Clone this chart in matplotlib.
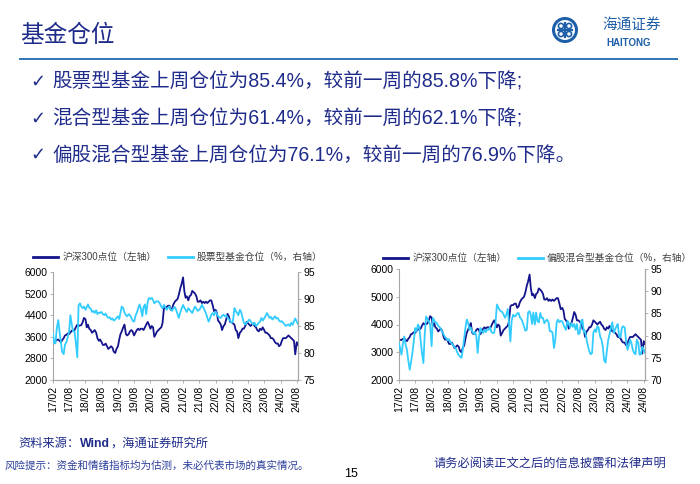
import numpy as np
import pandas as pd
import matplotlib
matplotlib.use('Agg')
import matplotlib.pyplot as plt
import matplotlib.dates as mdates
from matplotlib.patches import Circle
from matplotlib.lines import Line2D

plt.rcParams['font.family'] = ['Liberation Sans', 'Noto Sans CJK SC', 'DejaVu Sans']

# 半月度数据, 2017/02 ~ 2024/08
dates = pd.date_range('2017-02-01', periods=182, freq='SMS')

# 沪深300点位
hs300 = [
    3420, 3450, 3440, 3480, 3500, 3450, 3400, 3480, 3550, 3650, 3670, 3720,
    3700, 3760, 3830, 3820, 3850, 3950, 4050, 4000, 4020, 4030,
    4150, 4300, 4250, 3950, 4050, 3900, 3850, 3750, 3800, 3850, 3750, 3550,
    3450, 3500, 3400, 3300, 3300, 3350, 3250, 3150, 3200, 3250, 3200, 3050,
    3000, 3150, 3250, 3500, 3700, 3800, 3950, 4050, 3700, 3650, 3700, 3800,
    3850, 3800, 3650, 3750, 3850, 3900, 3850, 3900, 3900, 3850, 3950, 4050,
    4150, 4050, 3900, 4000, 3950, 3600, 3700, 3800, 3850, 3900, 3950, 4100,
    4650, 4700, 4700, 4750, 4750, 4600, 4650, 4800, 4900, 4950, 5000, 5150,
    5400, 5550, 5800, 5300, 5050, 5100, 4950, 5100, 5150, 5300, 5250, 5200,
    5100, 4900, 4900, 4950, 4850, 4900, 4850, 4900, 4850, 4900, 4950, 4950,
    4750, 4550, 4600, 4500, 4200, 4150, 4050, 3850, 4000, 4050, 4250, 4450,
    4350, 4150, 4150, 4100, 4050, 3850, 3800, 3550, 3750, 3800, 3900, 3900,
    4000, 4150, 4100, 4050, 4000, 4050, 4100, 4000, 3950, 3850, 3800, 3900,
    3850, 3950, 3850, 3750, 3750, 3700, 3650, 3550, 3550, 3500, 3400, 3350,
    3350, 3250, 3300, 3450, 3550, 3550, 3550, 3600, 3650, 3600, 3550, 3500,
    3450, 2950, 3400, 3300,
]

# 股票型基金仓位(%)
stock_pos = [
    83.6, 81.8, 81.8, 84.5, 86.1, 84.0, 82.0, 80.2, 79.8, 81.5, 82.0, 82.8,
    84.0, 87.0, 85.2, 84.0, 84.0, 82.0, 79.2, 88.8, 89.2, 88.6,
    88.3, 88.6, 88.0, 88.5, 89.0, 88.4, 88.2, 87.6, 87.8, 87.4, 87.9, 87.2,
    87.5, 87.4, 87.6, 87.2, 87.0, 87.3, 86.8, 86.5, 86.6, 86.2, 86.4, 86.0,
    86.2, 86.5, 86.8, 86.3, 87.5, 88.6, 88.3, 87.5, 87.0, 86.8, 87.2, 87.0,
    86.5, 86.0, 85.8, 86.8, 87.5, 88.2, 89.0, 88.3, 86.8, 88.5, 89.0, 87.2,
    89.5, 90.2, 90.0, 90.2, 89.8, 89.2, 89.5, 89.6, 89.5, 89.2, 88.6, 88.3,
    88.9, 88.5, 88.0, 88.4, 88.6, 88.0, 87.8, 88.3, 88.5, 88.0, 87.2, 86.5,
    87.5, 88.2, 88.9, 88.4, 88.0, 87.6, 88.3, 88.0, 87.7, 87.4, 88.1, 88.6,
    88.2, 87.8, 88.0, 88.3, 88.9, 88.5, 87.9, 87.4, 86.5, 85.8, 86.4, 87.1,
    87.4, 87.0, 87.7, 87.3, 86.8, 86.6, 86.5, 86.9, 87.1, 86.8, 87.0, 86.6,
    86.2, 86.0, 85.6, 85.9, 88.3, 87.8, 87.4, 87.0, 88.0, 87.6, 86.5, 85.6,
    85.3, 85.6, 85.9, 86.2, 85.9, 85.5, 85.3, 85.6, 85.0, 85.2, 85.6, 85.8,
    86.5, 86.0, 86.4, 86.8, 87.4, 87.0, 86.5, 86.7, 86.2, 86.5, 86.8, 86.4,
    86.5, 86.0, 85.8, 85.9, 85.6, 85.3, 85.0, 85.2, 85.3, 85.0, 85.6, 85.2,
    85.9, 86.4, 85.8, 85.4,
]

# 偏股混合型基金仓位(%)
mixed_pos = [
    78.3, 77.0, 75.7, 78.0, 79.8, 78.0, 76.8, 74.5, 72.3, 74.0, 76.1, 78.5,
    81.7, 81.0, 82.5, 82.0, 79.0, 76.3, 73.8, 80.0, 84.3, 83.8,
    83.2, 82.5, 77.6, 84.0, 83.5, 83.0, 82.8, 82.2, 81.9, 81.5, 80.8, 80.3,
    79.7, 79.3, 78.9, 79.2, 78.5, 78.2, 77.8, 77.4, 77.0, 76.2, 75.6, 75.3,
    75.0, 76.7, 79.5, 81.9, 83.6, 83.0, 81.3, 81.8, 81.0, 80.4, 80.8, 80.0,
    76.1, 79.5, 81.7, 81.0, 80.6, 81.3, 80.8, 81.4, 81.3, 81.9, 80.8, 80.6,
    80.6, 82.3, 87.0, 86.4, 85.8, 85.5, 85.3, 84.8, 84.0, 84.6, 86.0, 83.0,
    78.7, 83.3, 84.7, 84.3, 84.5, 85.0, 85.1, 84.1, 83.7, 83.0, 82.1, 81.1,
    81.3, 85.2, 85.5, 84.6, 82.6, 85.2, 82.5, 85.2, 83.2, 83.0, 85.1, 84.0,
    84.0, 82.8, 83.3, 83.6, 83.0, 81.0, 81.0, 80.7, 77.2, 79.0, 83.0, 83.6,
    83.0, 83.3, 83.2, 82.5, 81.8, 81.3, 83.3, 82.8, 81.8, 82.8, 82.0, 82.6,
    81.3, 82.6, 80.3, 80.6, 83.3, 83.6, 80.7, 81.0, 79.1, 77.7, 76.5, 75.8,
    76.1, 80.6, 81.4, 80.8, 82.1, 81.8, 79.8, 79.2, 77.5, 74.5, 73.9, 76.5,
    79.1, 80.3, 81.7, 83.0, 80.6, 81.4, 82.1, 82.6, 79.8, 79.6, 81.8, 82.1,
    81.8, 79.0, 76.8, 77.7, 79.1, 78.4, 76.8, 76.1, 75.8, 79.1, 78.4, 75.7,
    75.8, 77.5, 76.9, 76.1,
]

title = '基金仓位'
bullets = [
    '股票型基金上周仓位为85.4%，较前一周的85.8%下降;',
    '混合型基金上周仓位为61.4%，较前一周的62.1%下降;',
    '偏股混合型基金上周仓位为76.1%，较前一周的76.9%下降。',
]

dark = '#14148C'
light = '#33CCFF'
navy_txt = '#1F2B8A'
W, H = 700, 484

fig = plt.figure(figsize=(7, 4.84), dpi=100)

# 背景层: 像素坐标
bg = fig.add_axes([0, 0, 1, 1])
bg.set_xlim(0, W)
bg.set_ylim(H, 0)
bg.axis('off')

bg.text(20, 36, title, fontsize=17, color=navy_txt, va='center', ha='left')
bg.plot([20, 677], [59, 59], color='#2E74B5', lw=1.4)

# logo
bg.add_patch(Circle((565, 30), 11.5, fill=False, ec='#1D5FA8', lw=2.2))
bg.plot([558, 572], [30, 30], color='#1D5FA8', lw=1.6)
bg.plot([565, 565], [23, 37], color='#1D5FA8', lw=1.6)
for cx, cy in [(561, 26), (569, 26), (561, 34), (569, 34)]:
    bg.add_patch(Circle((cx, cy), 2.6, fill=False, ec='#1D5FA8', lw=1.2))
bg.text(632, 25, '海通证券', fontsize=10.5, color='#1D5FA8', ha='center', va='center')
bg.text(629, 43, 'HAITONG', fontsize=7, color='#1D5FA8', ha='center', va='center',
        fontweight='bold')

for i, s in enumerate(bullets):
    y = 82 + i * 36.5
    bg.text(30, y, '\u2713', fontsize=13, color=navy_txt, va='center', ha='left',
            family=['DejaVu Sans'])
    bg.text(52, y, s, fontsize=14.1, color=navy_txt, va='center', ha='left')

# footer: 资料来源 (Wind 加粗, 逐段拼接)
fig.canvas.draw()
r = fig.canvas.get_renderer()
x0 = 18
for part, wt in [('资料来源：', 'normal'), ('Wind', 'bold'), ('，海通证券研究所', 'normal')]:
    t = bg.text(x0, 444, part, fontsize=8.8, color=navy_txt, va='center', fontweight=wt)
    x0 += t.get_window_extent(r).width + 0.5
bg.text(5, 466, '风险提示：资金和情绪指标均为估测，未必代表市场的真实情况。', fontsize=7.6,
        color='#2C3E9A', va='center')
bg.text(351, 474, '15', fontsize=9, color='black', ha='center', va='center')
bg.text(433, 464, '请务必阅读正文之后的信息披露和法律声明', fontsize=8.8,
        color=navy_txt, va='center')


def make_chart(rect, right_vals, right_label, ylim_l, yticks_l, ylim_r, yticks_r, leg_xy):
    ax = fig.add_axes(rect)
    ax2 = ax.twinx()
    ax.plot(dates, hs300, color=dark, lw=1.3)
    ax2.plot(dates, right_vals, color=light, lw=1.3)
    ax.set_xlim(dates[0], dates[-1])
    ax.set_ylim(*ylim_l)
    ax.set_yticks(yticks_l)
    ax2.set_ylim(*ylim_r)
    ax2.set_yticks(yticks_r)
    ax.xaxis.set_major_locator(mdates.MonthLocator(bymonth=[2, 8]))
    ax.xaxis.set_major_formatter(mdates.DateFormatter('%y/%m'))
    for a in (ax, ax2):
        a.spines['top'].set_visible(False)
        for sp in ('left', 'right', 'bottom'):
            a.spines[sp].set_color('#A6A6A6')
            a.spines[sp].set_linewidth(0.8)
        a.tick_params(axis='both', labelsize=7.5, length=2.5, width=0.6,
                      color='#A6A6A6', pad=1.5)
    ax.tick_params(axis='x', rotation=90)
    ax2.spines['left'].set_visible(False)
    handles = [Line2D([], [], color=dark, lw=2), Line2D([], [], color=light, lw=2)]
    labels = ['沪深300点位（左轴）', right_label]
    leg = ax.legend(handles, labels, loc='center left', bbox_to_anchor=leg_xy,
                    bbox_transform=fig.transFigure, ncol=2, frameon=False, fontsize=7,
                    handlelength=2.6, handletextpad=0.4, columnspacing=1.2,
                    borderaxespad=0, borderpad=0)
    for t in leg.get_texts():
        t.set_color('#404040')
    return ax, ax2


make_chart([53 / W, 1 - 380 / H, 245 / W, 108 / H], stock_pos, '股票型基金仓位（%，右轴）',
           (2000, 6000), [2000, 2800, 3600, 4400, 5200, 6000],
           (75, 95), [75, 80, 85, 90, 95], (33 / W, 1 - 257 / H))

make_chart([399 / W, 1 - 380 / H, 246 / W, 111 / H], mixed_pos, '偏股混合型基金仓位（%，右轴）',
           (2000, 6000), [2000, 3000, 4000, 5000, 6000],
           (70, 95), [70, 75, 80, 85, 90, 95], (383 / W, 1 - 258 / H))

fig.savefig('out.png', dpi=100)
